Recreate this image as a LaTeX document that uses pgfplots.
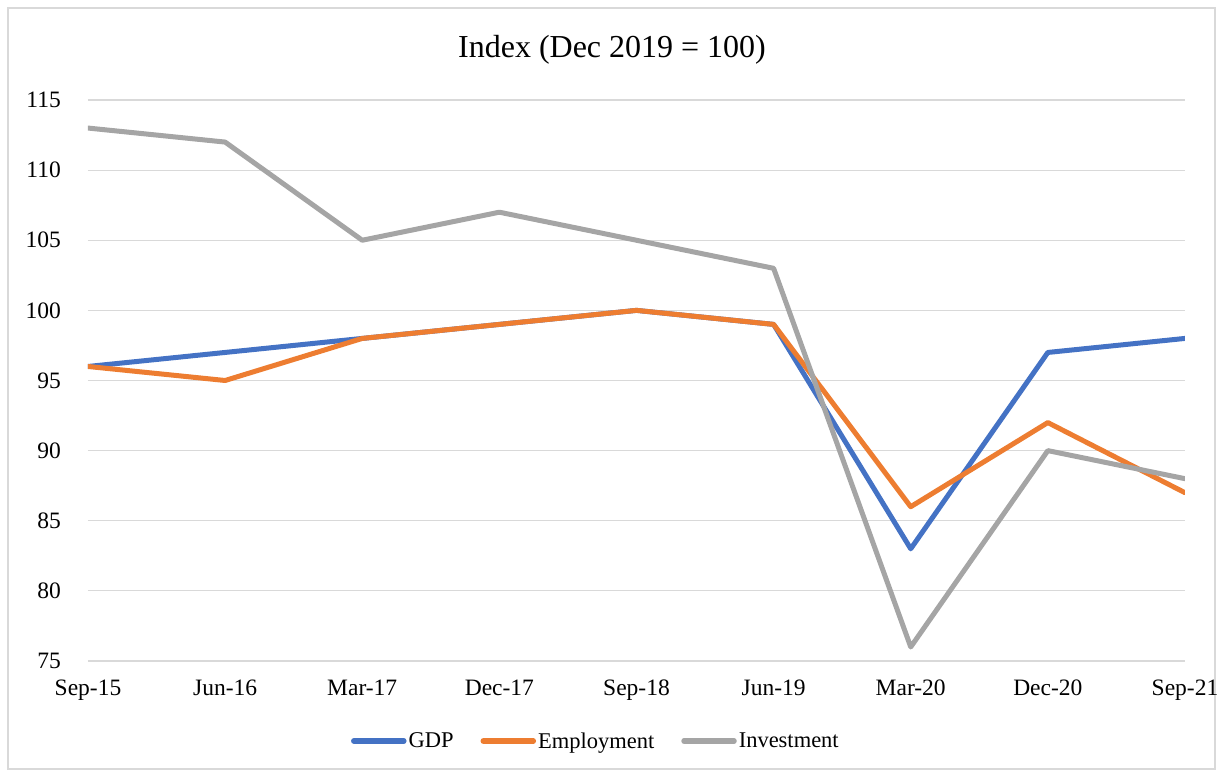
\documentclass[border=0pt]{standalone}
\usepackage{pgfplots}
\pgfplotsset{compat=1.18}
\usepackage{fontspec}
\setmainfont{Liberation Serif}
\definecolor{gdp}{HTML}{4472C4}
\definecolor{emp}{HTML}{ED7D31}
\definecolor{inv}{HTML}{A5A5A5}
\definecolor{gridc}{HTML}{D9D9D9}
\begin{document}
\begin{tikzpicture}
\useasboundingbox (-88bp,-110bp) rectangle (1132bp,661bp);
\draw[gridc, line width=1.2bp] (-80bp,-108bp) rectangle (1127bp,653bp);
\begin{axis}[
  at={(0,0)}, anchor=south west,
  scale only axis, width=1097bp, height=561bp,
  xmin=0, xmax=8, ymin=75, ymax=115,
  xtick={0,...,8},
  xticklabels={Sep-15,Jun-16,Mar-17,Dec-17,Sep-18,Jun-19,Mar-20,Dec-20,Sep-21},
  ytick={75,80,...,115},
  axis line style={draw=none},
  major tick length=0pt,
  ymajorgrids,
  grid style={gridc, line width=1.2bp},
  /pgf/number format/assume math mode=true,
  tick label style={font=\fontsize{23.5bp}{27bp}\selectfont, text=black},
  yticklabel style={anchor=east, inner sep=0pt, xshift=-27bp},
  xticklabel style={anchor=north, inner sep=0pt, yshift=-19bp},
  legend columns=3,
  legend style={draw=none, fill=none, at={(0.463,-0.1426)}, anchor=center,
    font=\fontsize{22.5bp}{26bp}\selectfont,
    /tikz/every even column/.append style={column sep=25bp},
    inner sep=0pt},
  legend image code/.code={\draw[#1, line width=5.5bp, line cap=round] (0bp,0bp) -- (50bp,0bp);},
  legend cell align=left,
  every axis plot/.append style={line width=5bp, line join=round, line cap=round},
]
\addplot[gdp] coordinates {(0,96) (1,97) (2,98) (3,99) (4,100) (5,99) (6,83) (7,97) (8,98)};
\addlegendentry{GDP}
\addplot[emp] coordinates {(0,96) (1,95) (2,98) (3,99) (4,100) (5,99) (6,86) (7,92) (8,87)};
\addlegendentry{Employment}
\addplot[inv] coordinates {(0,113) (1,112) (2,105) (3,107) (4,105) (5,103) (6,76) (7,90) (8,88)};
\addlegendentry{Investment}
\end{axis}
\node[font=\fontsize{32bp}{36bp}\selectfont] at (524bp,611bp) {Index (Dec 2019 = 100)};
\end{tikzpicture}
\end{document}
